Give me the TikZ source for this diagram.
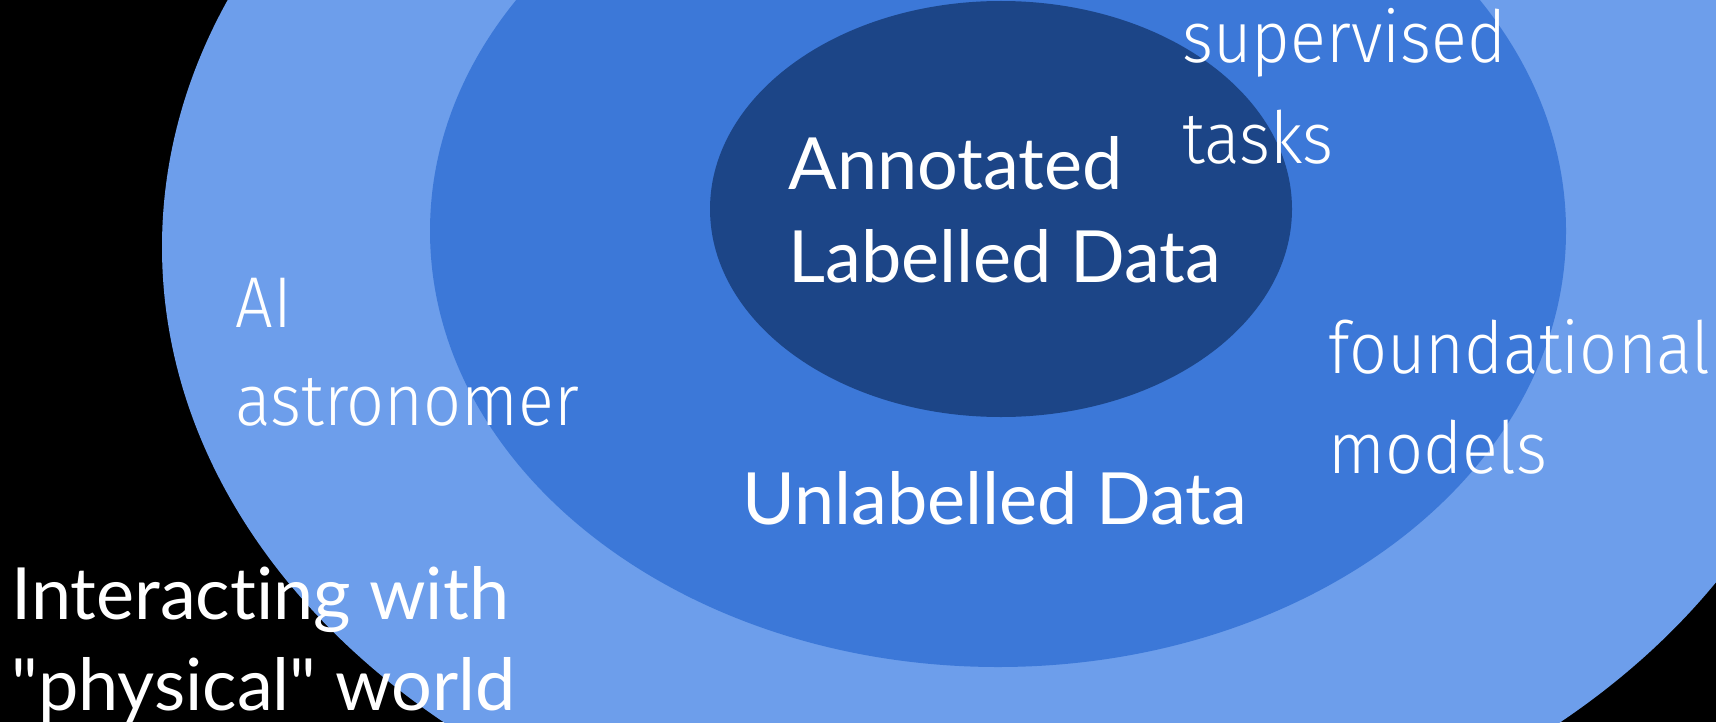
\documentclass[tikz,border=0pt]{standalone}
\usepackage{fontspec}
\setmainfont{Lato}[Ligatures={TeXOff,NoCommon}]
\IfFontExistsTF{Fira Sans Light}
  {\newfontfamily\thinfont{Fira Sans Light}[FakeStretch=0.925]}
  {\newfontfamily\thinfont{Fira Sans}[FakeStretch=0.915]}
\definecolor{ringlight}{HTML}{6D9EEB}
\definecolor{ringmid}{HTML}{3C78D8}
\definecolor{ringdark}{HTML}{1C4587}
\tikzset{
  lbl/.style={anchor=base west, inner sep=0pt, text=white, font=\fontsize{36}{44}\selectfont},
  thinlbl/.style={lbl, font=\thinfont\fontsize{36}{44}\selectfont},
}
\begin{document}
\begin{tikzpicture}[x=0.5pt, y=-0.5pt]
  \fill[black] (0,0) rectangle (1716,722);
  \useasboundingbox (0,0) rectangle (1716,722);
  \clip (0,0) rectangle (1716,722);

  % nested rings, outside in
  \fill[ringlight] (1002,247) ellipse [x radius=840, y radius=636];
  \fill[ringmid] (998,231) ellipse [x radius=568, y radius=436];
  \fill[ringdark] (1001,209) ellipse [x radius=291, y radius=208];

  % labels in the rings
  \node[lbl] (ann1) at (788,189) {Annotated};
  \node[lbl] (ann2) at (788,282) {Labelled Data};
  \node[lbl] (unl) at (742,524) {Unlabelled Data};
  \node[lbl] (phys1) at (11,619) {Interacting with};
  \node[lbl] (phys2) at (11,710) {"physical" world};

  % side notes
  \node[thinlbl] (sup1) at (1182,63) {supervised};
  \node[thinlbl] (sup2) at (1182,163) {tasks};
  \node[thinlbl] (ai1) at (235,327) {AI};
  \node[thinlbl] (ai2) at (235,425) {astronomer};
  \node[thinlbl] (fm1) at (1328,373) {foundational};
  \node[thinlbl] (fm2) at (1328,473) {models};
\end{tikzpicture}
\end{document}
